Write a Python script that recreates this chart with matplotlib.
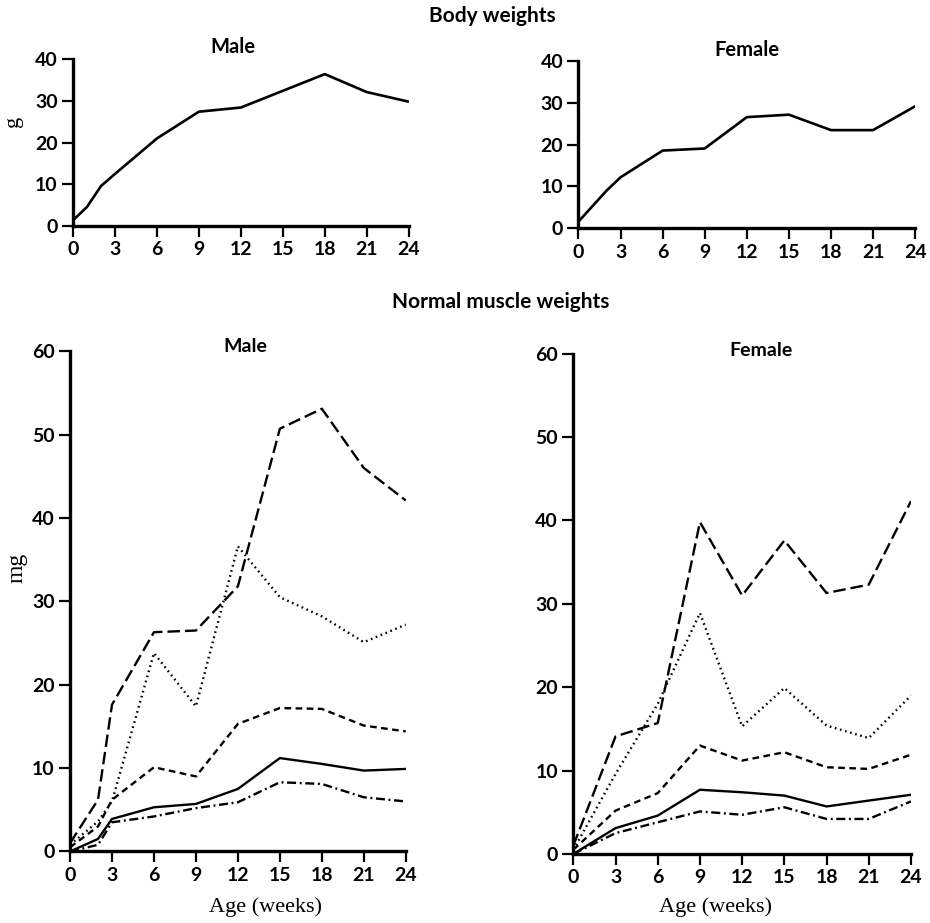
import numpy as np
import matplotlib
matplotlib.use("Agg")
import matplotlib.pyplot as plt

plt.rcParams['font.family'] = ['Lato', 'DejaVu Sans']
plt.rcParams['lines.scale_dashes'] = False

# body weights (g)
body_x_m = [0, 1, 2, 3, 6, 9, 12, 15, 18, 21, 24]
body_m = [1.4, 4.6, 9.6, 12.5, 21.0, 27.4, 28.4, 32.4, 36.4, 32.1, 29.8]
body_x_f = [0, 2, 3, 6, 9, 12, 15, 18, 21, 24]
body_f = [1.6, 9.0, 12.2, 18.6, 19.1, 26.6, 27.2, 23.5, 23.5, 29.2]

# normal muscle weights (mg), male
mus_x_m = [0, 2, 3, 6, 9, 12, 15, 18, 21, 24]
m_longdash = [1.0, 6.2, 17.6, 26.3, 26.5, 31.8, 50.7, 53.1, 46.0, 42.1]
m_dotted = [0.8, 3.6, 6.0, 23.8, 17.4, 36.6, 30.5, 28.2, 25.1, 27.2]
m_dashed = [0.5, 3.0, 6.2, 10.1, 9.0, 15.3, 17.2, 17.1, 15.1, 14.4]
m_solid = [0.0, 1.5, 3.9, 5.3, 5.7, 7.5, 11.2, 10.5, 9.7, 9.9]
m_dashdot = [0.0, 0.8, 3.5, 4.2, 5.2, 5.9, 8.3, 8.1, 6.5, 6.0]

# female
mus_x_f = [0, 3, 6, 9, 12, 15, 18, 21, 24]
f_longdash = [1.0, 14.1, 15.7, 39.8, 31.0, 37.6, 31.3, 32.3, 42.3]
f_dotted = [0.5, 9.6, 18.0, 28.9, 15.3, 19.9, 15.4, 13.9, 19.0]
f_dashed = [0.5, 5.2, 7.3, 13.0, 11.2, 12.2, 10.4, 10.2, 11.9]
f_solid = [0.0, 3.1, 4.6, 7.7, 7.4, 7.0, 5.7, 6.4, 7.1]
f_dashdot = [0.0, 2.5, 3.8, 5.1, 4.7, 5.6, 4.2, 4.2, 6.3]

xticks = [0, 3, 6, 9, 12, 15, 18, 21, 24]

styles = {
    'longdash': (0, (9.0, 3.6)),
    'dotted': (0, (1.2, 2.6)),
    'dashed': (0, (4.8, 3.2)),
    'solid': '-',
    'dashdot': (0, (6.5, 2.6, 1.4, 2.6)),
}

W, H = 930, 923
fig = plt.figure(figsize=(9.3, 9.23), dpi=100)


def px(x, y):
    return x / W, 1 - y / H


def style_ax(ax, ymax, ystep):
    ax.set_xlim(0, 24)
    ax.set_ylim(0, ymax)
    ax.set_xticks(xticks)
    ax.set_yticks(np.arange(0, ymax + 1, ystep))
    for s in ['top', 'right']:
        ax.spines[s].set_visible(False)
    for s in ['left', 'bottom']:
        ax.spines[s].set_linewidth(2.4)
    ax.tick_params(direction='out', length=8, width=1.6, labelsize=14, pad=3)
    for lab in ax.get_xticklabels() + ax.get_yticklabels():
        lab.set_fontweight('bold')


ax1 = fig.add_axes([0.0785, 0.755, 0.361, 0.181])
ax1.plot(body_x_m, body_m, color='black', lw=1.9)
style_ax(ax1, 40, 10)

ax2 = fig.add_axes([0.622, 0.7527, 0.362, 0.181])
ax2.plot(body_x_f, body_f, color='black', lw=1.9)
style_ax(ax2, 40, 10)

ax3 = fig.add_axes([0.0753, 0.0775, 0.361, 0.542])
for ys, key in [(m_longdash, 'longdash'), (m_dotted, 'dotted'), (m_dashed, 'dashed'),
                (m_solid, 'solid'), (m_dashdot, 'dashdot')]:
    ax3.plot(mus_x_m, ys, color='black', lw=1.7, linestyle=styles[key])
style_ax(ax3, 60, 10)

ax4 = fig.add_axes([0.6165, 0.0748, 0.363, 0.542])
for ys, key in [(f_longdash, 'longdash'), (f_dotted, 'dotted'), (f_dashed, 'dashed'),
                (f_solid, 'solid'), (f_dashdot, 'dashdot')]:
    ax4.plot(mus_x_f, ys, color='black', lw=1.7, linestyle=styles[key])
style_ax(ax4, 60, 10)

titles = [
    (492, 16, 'Body weights', 15),
    (501, 302, 'Normal muscle weights', 15),
    (233, 47, 'Male', 14.5),
    (747, 50, 'Female', 14.5),
    (245, 347, 'Male', 14),
    (761, 350, 'Female', 14),
]
for x, y, txt, fs in titles:
    fx, fy = px(x, y)
    fig.text(fx, fy, txt, ha='center', va='center', fontsize=fs, fontweight='bold')

# serif axis labels
serif = ['Liberation Serif', 'DejaVu Serif']
fx, fy = px(14, 121)
fig.text(fx, fy, 'g', rotation=90, ha='center', va='center', family=serif, fontsize=16)
fx, fy = px(17, 568)
fig.text(fx, fy, 'mg', rotation=90, ha='center', va='center', family=serif, fontsize=17)
for x in (265, 715):
    fx, fy = px(x, 907)
    fig.text(fx, fy, 'Age (weeks)', ha='center', va='center', family=serif, fontsize=16)

fig.savefig('out.png', dpi=100)
